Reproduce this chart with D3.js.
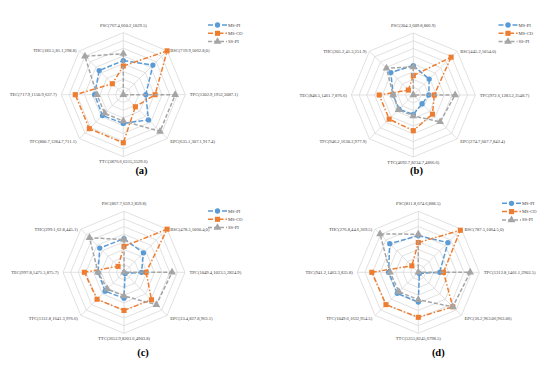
<!DOCTYPE html>
<html>
<head>
<meta charset="utf-8">
<script src="https://cdn.jsdelivr.net/npm/d3@7"></script>
<style>
  body { margin: 0; background: #fff; }
  svg { display: block; font-family: "Liberation Serif", "DejaVu Serif", serif; }
</style>
</head>
<body>
<svg id="svg" width="550" height="369"></svg>
<script>
// axes, clockwise from top
var axes = ["PSC", "BSC", "TPC", "EPC", "TTC", "TFC", "TEC", "THC"];
var seriesNames = ["MS-PI", "MS-CO", "SS-PI"];

// (a)
var labelsA = ["PSC(767.4,660.2,1029.5)", "BSC(719.9,1062.8,0)", "TPC(1302.9,1952,3087.1)", "EPC(635.1,307.1,917.4)",
  "TTC(3876.6,6315,3529.6)", "TFC(800.7,1284.7,711.1)", "TEC(717.9,1150.9,637.7)", "THC(183.5,81.1,298.8)"];
var msPiA = [4.4, 5.4, 2.9, 4.6, 3.7, 3.8, 3.7, 4.4];
var msCoA = [3.7, 8.0, 4.1, 2.2, 6.2, 6.2, 6.2, 2.0];
var ssPiA = [5.3, 0, 6.7, 6.7, 3.4, 3.4, 3.4, 7.0];

// (b)
var labelsB = ["PSC(304.3,609.8,806.9)", "BSC(445.2,1054.0)", "TPC(972.6,1283.2,2548.7)", "EPC(274.7,607.7,842.4)",
  "TTC(4692.7,8234.7,4866.6)", "TFC(946.2,1630.2,977.9)", "TEC(848.5,1461.7,876.6)", "THC(205.2,41.3,251.9)"];
var msPiB = [3.8, 2.9, 2.0, 1.6, 2.5, 2.6, 2.6, 4.1];
var msCoB = [2.5, 6.9, 2.7, 3.5, 4.6, 4.4, 4.4, 0.9];
var ssPiB = [3.6, 0, 5.4, 4.9, 2.7, 2.7, 2.6, 4.9];

// (c)
var labelsC = ["PSC(867.7,659.2,859.8)", "BSC(478.5,1060.4,0)", "TPC(1049.4,1023.5,2824.9)", "EPC(33.4,827.8,963.1)",
  "TTC(3652.9,8201.6,4903.8)", "TFC(1112.8,1641.3,976.6)", "TEC(997.8,1471.5,875.7)", "THC(299.1,62.8,445.1)"];
var msPiC = [4.4, 3.6, 2.3, 0.2, 3.4, 3.5, 3.4, 4.5];
var msCoC = [3.4, 8.0, 2.9, 5.1, 5.0, 5.0, 5.2, 1.1];
var ssPiC = [4.3, 0, 6.3, 6.0, 3.1, 3.1, 3.4, 6.4];

// (d)
var labelsD = ["PSC(811.8,674.6,888.5)", "BSC(787.5,1064.5,0)", "TPC(1312.8,1401.1,2903.5)", "EPC(36.2,963.06,963.06)",
  "TTC(5355,8245,6798.5)", "TFC(1049.6,1632,954.5)", "TEC(941.2,1463.3,835.8)", "THC(276.8,44.6,369.5)"];
var msPiD = [4.8, 5.5, 2.8, 0.2, 3.9, 3.9, 3.9, 5.3];
var msCoD = [3.9, 7.8, 3.3, 6.4, 5.9, 6.0, 6.1, 1.2];
var ssPiD = [5.0, 0, 6.8, 6.4, 3.6, 3.6, 3.7, 7.1];

var ringTicks = [1, 2, 3, 4, 5, 6, 7, 8];

var panels = [
  { tag: "(a)", labels: labelsA, series: [msPiA, msCoA, ssPiA], cx: 123.3, cy: 94.7, r: 62, lx: 208, ly: 25, tx: 141.5, ty: 173.5 },
  { tag: "(b)", labels: labelsB, series: [msPiB, msCoB, ssPiB], cx: 413.3, cy: 95, r: 62, lx: 498.5, ly: 25, tx: 416.5, ty: 173.5 },
  { tag: "(c)", labels: labelsC, series: [msPiC, msCoC, ssPiC], cx: 124, cy: 272.3, r: 61, lx: 208, ly: 211, tx: 143, ty: 355.5 },
  { tag: "(d)", labels: labelsD, series: [msPiD, msCoD, ssPiD], cx: 418.3, cy: 272.3, r: 61, lx: 502, ly: 203.3, tx: 438.3, ty: 355.5 }
];

var colors = ["#5B9BD5", "#ED7D31", "#A5A5A5"];
var dashes = ["5,2", "5,2,1.5,2", "4,2"];
var symbols = [d3.symbolCircle, d3.symbolSquare, d3.symbolTriangle];
var symSize = [22, 26, 26];

var svg = d3.select("#svg");
var n = axes.length;
var angle = function (i) { return i * 2 * Math.PI / n; };

panels.forEach(function (p) {
  var rScale = d3.scaleLinear().domain([0, 8]).range([0, p.r]);
  var g = svg.append("g").attr("transform", "translate(" + p.cx + "," + p.cy + ")");

  // rings
  g.selectAll(".ring")
    .data(ringTicks)
    .enter()
    .append("polygon")
    .attr("points", function (t) {
      return axes.map(function (a, i) { return d3.pointRadial(angle(i), rScale(t)).join(","); }).join(" ");
    })
    .attr("fill", "none")
    .attr("stroke", "#d9d9d9")
    .attr("stroke-width", 0.8);

  // spokes
  g.selectAll(".spoke")
    .data(axes)
    .enter()
    .append("line")
    .attr("x1", 0).attr("y1", 0)
    .attr("x2", function (a, i) { return d3.pointRadial(angle(i), rScale(8))[0]; })
    .attr("y2", function (a, i) { return d3.pointRadial(angle(i), rScale(8))[1]; })
    .attr("stroke", "#d9d9d9")
    .attr("stroke-width", 0.8);

  // axis labels
  g.selectAll(".lbl")
    .data(p.labels)
    .enter()
    .append("text")
    .attr("font-size", 4.6)
    .attr("fill", "#404040")
    .attr("x", function (d, i) {
      var pt = d3.pointRadial(angle(i), rScale(8));
      var s = Math.sin(angle(i));
      return pt[0] + (Math.abs(s) < 0.01 ? 0 : (s > 0 ? 3 : -3)) + (Math.abs(s) > 0.99 ? (s > 0 ? 1.5 : -1.5) : 0);
    })
    .attr("y", function (d, i) {
      var pt = d3.pointRadial(angle(i), rScale(8));
      var c = Math.cos(angle(i));
      if (c > 0.99) return pt[1] - 6;
      if (c < -0.99) return pt[1] + 6.5;
      if (c < -0.5) return pt[1] + 4.5;
      return pt[1] + 1.6;
    })
    .attr("text-anchor", function (d, i) {
      var s = Math.sin(angle(i));
      return Math.abs(s) < 0.01 ? "middle" : (s > 0 ? "start" : "end");
    })
    .text(function (d) { return d; });

  var line = d3.lineRadial()
    .angle(function (d, i) { return angle(i); })
    .radius(function (d) { return rScale(d); })
    .curve(d3.curveLinearClosed);

  p.series.forEach(function (vals, si) {
    g.append("path")
      .attr("d", line(vals))
      .attr("fill", "none")
      .attr("stroke", colors[si])
      .attr("stroke-width", 1.5)
      .attr("stroke-dasharray", dashes[si]);

    g.selectAll(".m" + si)
      .data(vals)
      .enter()
      .append("path")
      .attr("d", d3.symbol().type(symbols[si]).size(symSize[si]))
      .attr("transform", function (d, i) {
        return "translate(" + d3.pointRadial(angle(i), rScale(d)).join(",") + ")";
      })
      .attr("fill", colors[si]);
  });

  // legend
  var leg = svg.append("g").attr("transform", "translate(" + p.lx + "," + p.ly + ")");
  seriesNames.forEach(function (name, si) {
    var y = si * 8.3;
    leg.append("line")
      .attr("x1", 0).attr("x2", 19).attr("y1", y).attr("y2", y)
      .attr("stroke", colors[si]).attr("stroke-width", 1.5)
      .attr("stroke-dasharray", dashes[si]);
    leg.append("path")
      .attr("d", d3.symbol().type(symbols[si]).size(symSize[si]))
      .attr("transform", "translate(9.5," + y + ")")
      .attr("fill", colors[si]);
    leg.append("text")
      .attr("x", 20).attr("y", y + 1.6)
      .attr("font-size", 4.6)
      .attr("fill", "#404040")
      .text(name);
  });

  // panel tag
  svg.append("text")
    .attr("x", p.tx).attr("y", p.ty)
    .attr("text-anchor", "middle")
    .attr("font-size", 10.5)
    .attr("font-weight", "bold")
    .attr("fill", "#000")
    .text(p.tag);
});
</script>
</body>
</html>
